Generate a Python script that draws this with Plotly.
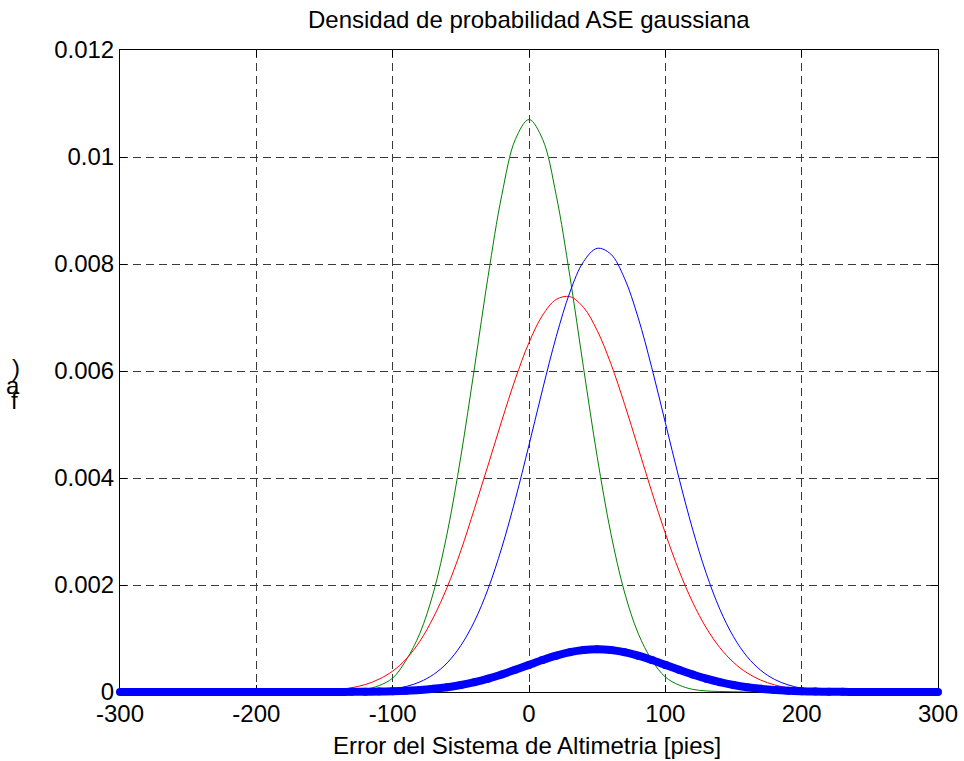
import plotly.graph_objects as go

# ---- data ----
x_vals = [-300, -290, -280, -270, -260, -250, -240, -230, -220, -210,
          -200, -190, -180, -170, -160, -150, -140, -130, -120, -110,
          -100, -90, -80, -70, -60, -50, -40, -30, -20, -10,
          0, 10, 20, 30, 40, 50, 60, 70, 80, 90,
          100, 110, 120, 130, 140, 150, 160, 170, 180, 190,
          200, 210, 220, 230, 240, 250, 260, 270, 280, 290, 300]

green_vals = [0, 0, 0, 0, 0, 0, 0, 0, 0, 0,
              0, 0, 0, 0, 0, 0.000004, 0.00001, 0.00002, 0.00005, 0.00012,
              0.00026, 0.0006, 0.0011, 0.00187, 0.00297, 0.0044, 0.00606, 0.00777, 0.00928, 0.01033,
              0.0107, 0.01033, 0.00928, 0.00777, 0.00606, 0.0044, 0.00297, 0.00187, 0.0011, 0.0006,
              0.00028, 0.00013, 0.00005, 0.00002, 0.00001, 0.000004, 0, 0, 0, 0,
              0, 0, 0, 0, 0, 0, 0, 0, 0, 0, 0]

red_vals = [0, 0, 0, 0, 0, 0, 0, 0, 0, 0,
            0, 0, 0, 0, 0, 0.00002, 0.00004, 0.00008, 0.00014, 0.00024,
            0.00039, 0.00062, 0.00095, 0.0014, 0.00196, 0.00264, 0.003428, 0.00424, 0.005067, 0.005852,
            0.006531, 0.007043, 0.007338, 0.007389, 0.007189, 0.006758, 0.00614, 0.005389, 0.004571, 0.003747,
            0.002967, 0.002271, 0.001679, 0.0012, 0.000829, 0.000553, 0.000357, 0.000222, 0.000134, 0.000078,
            0.000044, 0.000024, 0, 0, 0, 0, 0, 0, 0, 0, 0]

blue_vals = [0, 0, 0, 0, 0, 0, 0, 0, 0, 0,
             0, 0, 0, 0, 0, 0, 0, 0, 0.000013, 0.000028,
             0.000055, 0.000104, 0.000189, 0.000328, 0.000545, 0.000868, 0.001322, 0.001929, 0.002695, 0.003604,
             0.004616, 0.00566, 0.006646, 0.007472, 0.008044, 0.008293, 0.008185, 0.007736, 0.007002, 0.006067,
             0.005034, 0.004, 0.003043, 0.002217, 0.001546, 0.001033, 0.00066, 0.000405, 0.000237, 0.000133,
             0.000072, 0.000037, 0.000018, 0, 0, 0, 0, 0, 0, 0, 0]

thick_vals = [0, 0, 0, 0, 0, 0, 0, 0, 0, 0,
              0, 0, 0, 0, 0, 0, 0, 0.000003, 0.000005, 0.000008,
              0.000014, 0.000024, 0.000038, 0.00006, 0.00009, 0.000131, 0.000184, 0.00025, 0.000328, 0.000415,
              0.000507, 0.000598, 0.000679, 0.000744, 0.000786, 0.0008, 0.000786, 0.000744, 0.000679, 0.000598,
              0.000507, 0.000415, 0.000328, 0.00025, 0.000184, 0.000131, 0.00009, 0.00006, 0.000038, 0.000024,
              0.000014, 0.000008, 0.000005, 0.000003, 0, 0, 0, 0, 0, 0, 0]

x_ticks = [-300, -200, -100, 0, 100, 200, 300]
x_ticktext = ["-300", "-200", "-100", "0", "100", "200", "300"]
y_ticks = [0, 0.002, 0.004, 0.006, 0.008, 0.01, 0.012]
y_ticktext = ["0", "0.002", "0.004", "0.006", "0.008", "0.01", "0.012"]

title_text = "Densidad de probabilidad ASE gaussiana"
xlabel_text = "Error del Sistema de Altimetria [pies]"
ylabel_chars = [")", "a", "f"]

# ---- layout geometry ----
W, H = 964, 761
ML, MR, MT, MB = 115, 21, 50, 64
PW = W - ML - MR   # 828
PH = H - MT - MB   # 647
PAD = 5            # extra pixels so the thick curve is not clipped at the frame

FONT = "Liberation Sans, Arial, Helvetica, sans-serif"
FS = 24

fig = go.Figure()

for vals, col in [(green_vals, "#008000"), (red_vals, "#ff0000"), (blue_vals, "#0000ff")]:
    fig.add_trace(go.Scatter(x=x_vals, y=vals, mode="lines",
                             line=dict(color=col, width=1, shape="spline", smoothing=1),
                             showlegend=False, hoverinfo="skip"))

fig.add_trace(go.Scatter(x=x_vals, y=thick_vals, mode="lines+markers",
                         xaxis="x2", yaxis="y2",
                         line=dict(color="#0000ff", width=8, shape="spline", smoothing=1),
                         marker=dict(color="#0000ff", size=8, line=dict(width=0)),
                         cliponaxis=False,
                         showlegend=False, hoverinfo="skip"))

xpx = 600.0 / (PW - 2 * PAD)
ypx = 0.012 / (PH - PAD)

axis_common = dict(
    showline=True, linecolor="black", linewidth=1, mirror="ticks",
    ticks="inside", ticklen=7, tickcolor="black", tickwidth=1,
    showgrid=True, gridcolor="#3a3a3a", gridwidth=1, griddash="8px,5px",
    zeroline=False, automargin=False,
    tickfont=dict(family=FONT, size=FS, color="black"),
)

fig.update_layout(
    width=W, height=H,
    margin=dict(l=ML, r=MR, t=MT, b=MB, pad=0, autoexpand=False),
    paper_bgcolor="white", plot_bgcolor="rgba(0,0,0,0)",
    xaxis=dict(domain=[PAD / PW, 1 - PAD / PW], range=[-300, 300],
               tickmode="array", tickvals=x_ticks, ticktext=x_ticktext,
               anchor="y", **axis_common),
    yaxis=dict(domain=[PAD / PH, 1], range=[0, 0.012],
               tickmode="array", tickvals=y_ticks, ticktext=y_ticktext,
               anchor="x", **axis_common),
    xaxis2=dict(domain=[0, 1], range=[-300 - PAD * xpx, 300 + PAD * xpx],
                visible=False, anchor="y2", showgrid=False, automargin=False),
    yaxis2=dict(domain=[0, 1], range=[-PAD * ypx, 0.012],
                visible=False, anchor="x2", showgrid=False, automargin=False),
)

def px_x(px):
    return (px - ML) / PW

def px_y(py):
    return (H - MB - py) / PH

annots = [
    dict(text=title_text, x=px_x(529), y=px_y(19), xref="paper", yref="paper",
         xanchor="center", yanchor="middle", showarrow=False,
         font=dict(family=FONT, size=FS, color="black")),
    dict(text=xlabel_text, x=px_x(527), y=px_y(745), xref="paper", yref="paper",
         xanchor="center", yanchor="middle", showarrow=False,
         font=dict(family=FONT, size=FS, color="black")),
]
for ch, (cx, cy) in zip(ylabel_chars, [(15.5, 367), (13, 385), (14.5, 400)]):
    annots.append(dict(text=ch, x=px_x(cx), y=px_y(cy), xref="paper", yref="paper",
                       xanchor="center", yanchor="middle", showarrow=False,
                       font=dict(family=FONT, size=FS, color="black")))

fig.update_layout(annotations=annots)

fig.write_html("out.html")
